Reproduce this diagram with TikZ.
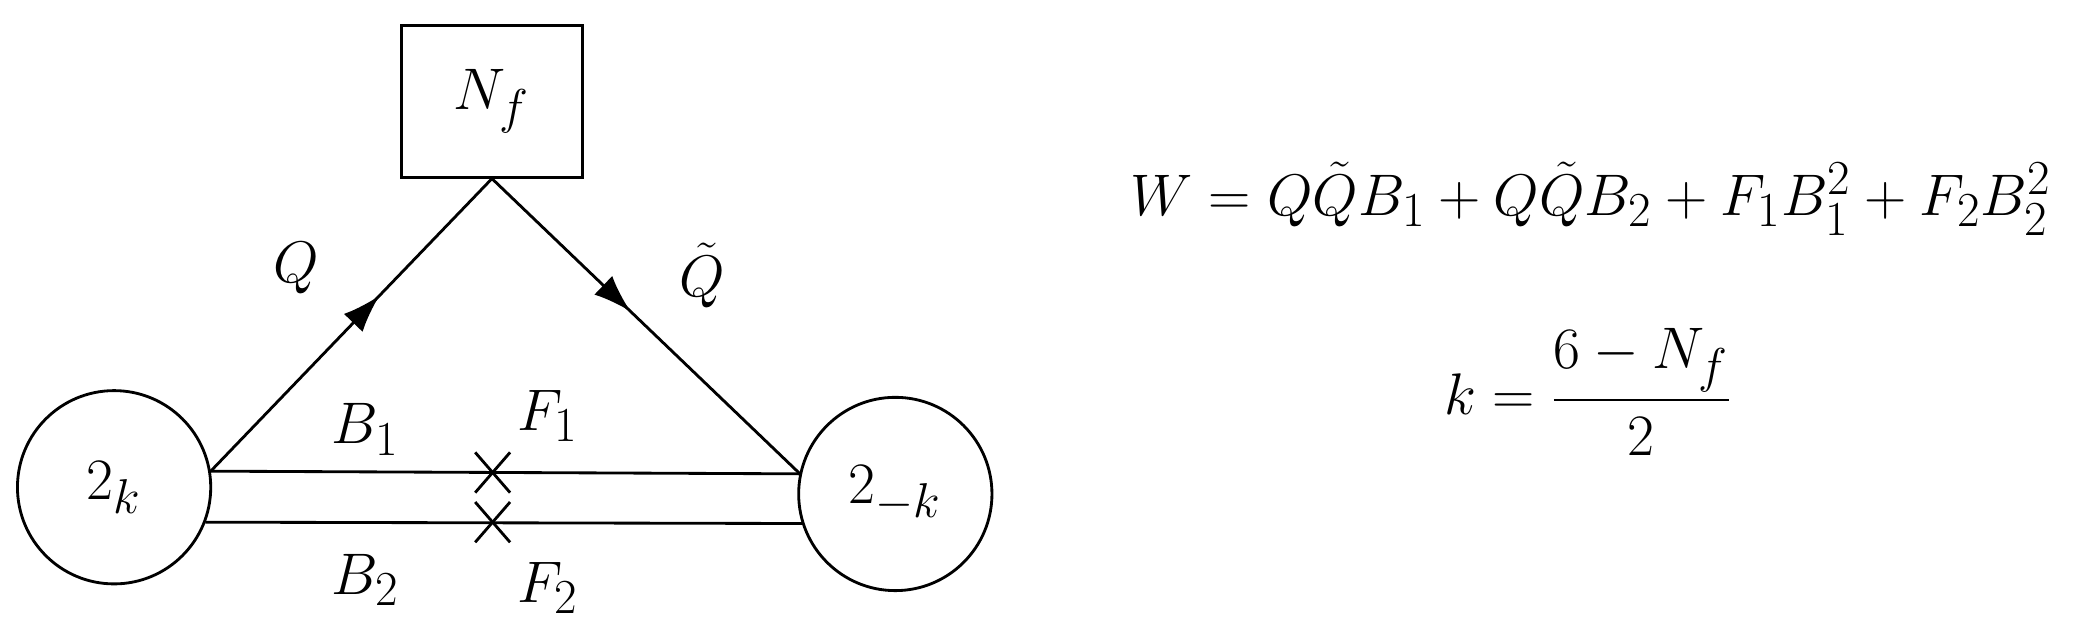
\documentclass[tikz,border=0pt]{standalone}
\usepackage{amsmath}
\usetikzlibrary{decorations.markings,arrows.meta}
\begin{document}
\begin{tikzpicture}[x=0.02cm,y=-0.02cm,line width=1.2pt,
  lbl/.style={font=\fontsize{28}{34}\selectfont},
  mid/.style={postaction={decorate},decoration={markings,mark=at position #1 with {\arrow{Latex[length=16pt,width=11pt]}}}}]
\useasboundingbox (0,0) rectangle (1560,474);
\node[draw,minimum width=135*0.02cm,minimum height=113*0.02cm,line width=1.2pt,lbl] (nf) at (366.5,75.5) {$N_f$};
\node[draw,circle,minimum size=144*0.02cm,inner sep=0pt,lbl] (l) at (85,363) {$2_k$};
\node[draw,circle,minimum size=144*0.02cm,inner sep=0pt,lbl] (r) at (667,368) {$2_{-k}$};
\coordinate (lt) at (157,351); \coordinate (rt) at (596,353);
\coordinate (lb) at (153,389); \coordinate (rb) at (598,390);
\draw[mid=0.6] (lt) -- (nf.south);
\draw[mid=0.45] (nf.south) -- (rt);
\draw (lt) -- (rt);
\draw (lb) -- (rb);
\coordinate (x1) at (367,352); \coordinate (x2) at (367,389);
\foreach \c in {x1,x2}{\draw ([shift={(-13,-15)}]\c) -- ([shift={(13,15)}]\c); \draw ([shift={(-13,15)}]\c) -- ([shift={(13,-15)}]\c);}
\node[lbl] (q) at (221,200) {$Q$};
\node[lbl] (qt) at (523,205) {$\tilde Q$};
\node[lbl] (b1) at (272,320) {$B_1$};
\node[lbl] (f1) at (408,310) {$F_1$};
\node[lbl] (b2) at (272,432) {$B_2$};
\node[lbl] (f2) at (408,438) {$F_2$};
\node[lbl] (w) at (1185,148) {$W = Q\tilde Q B_1 + Q\tilde Q B_2 + F_1 B_1^2 + F_2 B_2^2$};
\node[lbl] (k) at (1183,292) {$k = \dfrac{6 - N_f}{2}$};
\end{tikzpicture}
\end{document}
